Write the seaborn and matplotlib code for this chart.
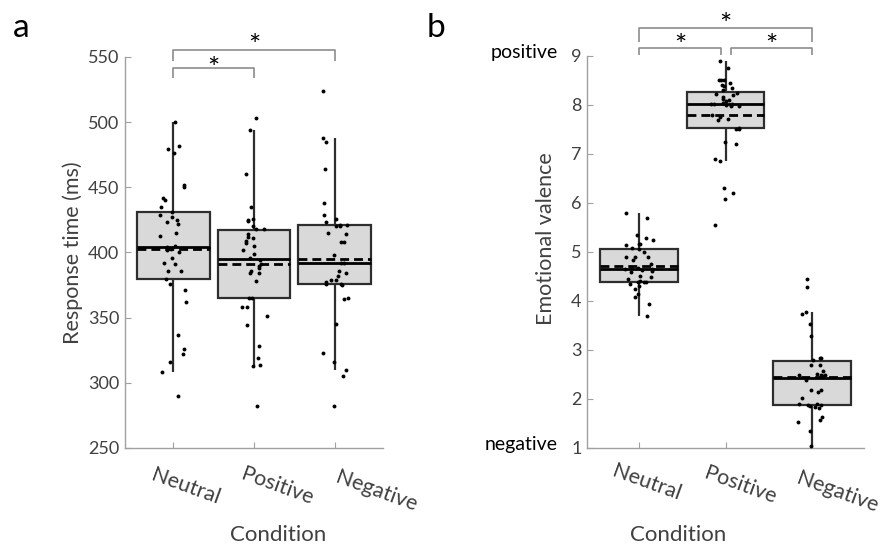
import numpy as np
import pandas as pd
import matplotlib
matplotlib.use("Agg")
import matplotlib.pyplot as plt
import matplotlib.transforms as mtransforms
import seaborn as sns

# ---------------------------------------------------------------- data
conditions = ["Neutral", "Positive", "Negative"]

# response times per participant (ms)
rt_neutral = [500, 482, 479, 476, 452, 450, 442, 440, 435, 431, 429, 427, 425,
              423, 422, 415, 413, 405, 404, 403, 402, 400, 396, 392, 391, 386,
              386, 380, 376, 371, 362, 337, 326, 322, 316, 308, 290]
rt_positive = [503, 494, 460, 435, 426, 425, 424, 420, 418, 418, 414, 412, 411,
               409, 407, 405, 402, 399, 396, 394, 391, 390, 388, 386, 384, 384,
               378, 365, 365, 358, 358, 351, 344, 328, 319, 314, 313, 282]
rt_negative = [524, 488, 485, 464, 438, 429, 426, 423, 421, 421, 420, 420, 415,
               414, 408, 408, 398, 392, 392, 386, 384, 382, 379, 379, 377, 376,
               376, 375, 365, 364, 345, 323, 316, 310, 305, 282]

# emotional valence ratings (1 = negative, 9 = positive)
val_neutral = [5.80, 5.69, 5.35, 5.29, 5.24, 5.16, 5.16, 5.14, 5.09, 5.06, 4.99,
               4.89, 4.89, 4.89, 4.83, 4.75, 4.70, 4.68, 4.66, 4.65, 4.64, 4.62,
               4.60, 4.51, 4.48, 4.44, 4.41, 4.39, 4.39, 4.38, 4.34, 4.31, 4.24,
               4.14, 4.09, 3.94, 3.69]
val_positive = [8.90, 8.75, 8.50, 8.50, 8.50, 8.45, 8.41, 8.39, 8.35, 8.30, 8.24,
                8.22, 8.20, 8.16, 8.12, 8.10, 8.09, 8.05, 8.03, 8.02, 8.02, 8.00,
                8.00, 7.98, 7.97, 7.80, 7.75, 7.72, 7.70, 7.54, 7.50, 7.50, 7.25,
                7.20, 6.89, 6.86, 6.30, 6.20, 6.09, 5.55]
val_negative = [4.44, 4.29, 3.78, 3.74, 3.54, 3.29, 2.84, 2.84, 2.79, 2.69, 2.69,
                2.58, 2.50, 2.49, 2.49, 2.48, 2.47, 2.39, 2.18, 2.18, 2.14, 2.03,
                1.90, 1.89, 1.88, 1.88, 1.86, 1.84, 1.82, 1.64, 1.58, 1.54, 1.34,
                1.04]

rt_ticks = [250, 300, 350, 400, 450, 500, 550]
val_ticks = [1, 2, 3, 4, 5, 6, 7, 8, 9]

# ---------------------------------------------------------------- style
sns.set_style("ticks")
plt.rcParams["font.family"] = ["Lato", "DejaVu Sans"]

BOX_FILL = "#d9d9d9"
EDGE = "#2e2e2e"
AXIS_GRAY = "#a0a0a0"
TEXT_GRAY = "#404040"
BRACKET = "#8c8c8c"
STAR_SIZE = 21


def long_frame(groups):
    return pd.DataFrame({
        "Condition": pd.Categorical(
            np.repeat(conditions, [len(g) for g in groups]), categories=conditions),
        "value": np.concatenate([np.asarray(g, float) for g in groups]),
    })


def draw_panel(ax, df, seed):
    sns.boxplot(data=df, x="Condition", y="value", order=conditions, ax=ax,
                width=0.9, color=BOX_FILL, saturation=1, linecolor=EDGE,
                linewidth=1.6, whis=1.5, showcaps=False, showfliers=False,
                showmeans=True, meanline=True,
                meanprops=dict(color="black", linestyle=(0, (3.2, 1.8)), linewidth=2.0),
                medianprops=dict(color="black", linewidth=2.0))
    np.random.seed(seed)
    sns.stripplot(data=df, x="Condition", y="value", order=conditions, ax=ax,
                  color="black", size=2.8, jitter=0.17, linewidth=0, zorder=4)


def style_axes(ax, ylim, yticks, label_shifts):
    ax.set_xlim(-0.6, 2.6)
    ax.set_ylim(*ylim)
    ax.set_yticks(yticks)
    ax.set_xlabel("")
    for side in ("top", "right"):
        ax.spines[side].set_visible(False)
    for side in ("left", "bottom"):
        ax.spines[side].set_color(AXIS_GRAY)
        ax.spines[side].set_linewidth(1.0)
    ax.tick_params(direction="in", length=4, width=0.8, color=AXIS_GRAY,
                   labelcolor=TEXT_GRAY)
    ax.tick_params(axis="y", labelsize=13, pad=4)
    ax.tick_params(axis="x", pad=0)
    ax.set_xticks(range(len(conditions)))
    ax.set_xticklabels(conditions, rotation=-20, ha="center", va="center",
                       rotation_mode="anchor", fontsize=15.5, color=TEXT_GRAY)
    for lab, (dx, dy) in zip(ax.get_xticklabels(), label_shifts):
        lab.set_transform(lab.get_transform() + mtransforms.ScaledTranslation(
            dx / 100, -dy / 100, ax.figure.dpi_scale_trans))


def bracket(ax, x0, x1, y, drop, star_y):
    ax.plot([x0, x0, x1, x1], [y - drop, y, y, y - drop], color=BRACKET,
            lw=1.2, clip_on=False, solid_capstyle="butt")
    ax.annotate("*", xy=((x0 + x1) / 2, star_y), xytext=(0, -0.56 * STAR_SIZE),
                textcoords="offset points", ha="center", va="baseline",
                fontsize=STAR_SIZE, color="black", annotation_clip=False)


fig = plt.figure(figsize=(8.87, 5.44), dpi=100)
ax_a = fig.add_axes([0.1409, 0.1765, 0.2909, 0.7188])
ax_b = fig.add_axes([0.6618, 0.1765, 0.3123, 0.7206])

# ---------------------------------------------------------------- panel a
draw_panel(ax_a, long_frame([rt_neutral, rt_positive, rt_negative]), 3)
style_axes(ax_a, (250, 550), rt_ticks, [(12, 39), (23, 38), (42, 43)])
ax_a.set_ylabel("Response time (ms)", fontsize=15.5, color=TEXT_GRAY)
ax_a.yaxis.set_label_coords(-0.163, 0.5)
ax_a.text(0.593, -0.238, "Condition", transform=ax_a.transAxes, ha="center",
          va="baseline", fontsize=16, color=TEXT_GRAY)
bracket(ax_a, 0, 1, 541.5, 7.5, 546.5)
bracket(ax_a, 0, 2, 555.4, 8.4, 563.8)

# ---------------------------------------------------------------- panel b
draw_panel(ax_b, long_frame([val_neutral, val_positive, val_negative]), 7)
style_axes(ax_b, (1, 9), val_ticks, [(8, 35), (15, 37), (25, 44)])
ax_b.set_ylabel("Emotional valence", fontsize=15.5, color=TEXT_GRAY)
ax_b.yaxis.set_label_coords(-0.112, 0.533)
ax_b.text(0.33, -0.238, "Condition", transform=ax_b.transAxes, ha="center",
          va="baseline", fontsize=16, color=TEXT_GRAY)
end_tf = mtransforms.blended_transform_factory(ax_b.transAxes, ax_b.transData)
ax_b.text(-0.105, 9.08, "positive", transform=end_tf, ha="right", va="center",
          fontsize=14, color="black")
ax_b.text(-0.105, 1.08, "negative", transform=end_tf, ha="right", va="center",
          fontsize=14, color="black")
bracket(ax_b, 0, 2, 9.565, 0.275, 9.776)
bracket(ax_b, 0, 0.95, 9.157, 0.137, 9.347)
bracket(ax_b, 1.06, 2, 9.157, 0.137, 9.347)

# panel letters
fig.text(0.0147, 0.932, "a", fontsize=24, color="black", va="baseline")
fig.text(0.481, 0.932, "b", fontsize=24, color="black", va="baseline")

fig.savefig("out.png", dpi=100)
